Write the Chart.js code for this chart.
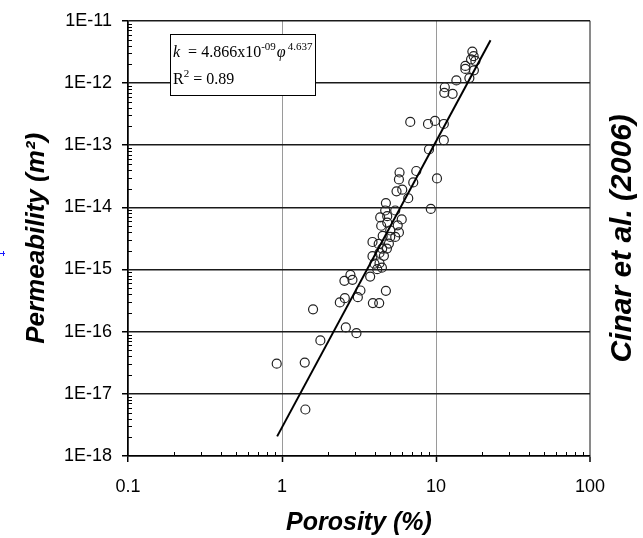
<!DOCTYPE html>
<html>
<head>
<meta charset="utf-8">
<script src="https://cdn.jsdelivr.net/npm/chart.js@4/dist/chart.umd.min.js"></script>
<style>
  html, body { margin: 0; padding: 0; background: #ffffff; }
  #wrap { width: 643px; height: 538px; position: relative; }
</style>
</head>
<body>
<div id="wrap"><canvas id="c" width="643" height="538"></canvas></div>
<script>
// ---- Data ----
const porosity = [
  0.924, 1.405, 1.418, 1.775, 1.591, 2.597, 3.043, 2.374, 2.558, 3.108,
  3.231, 2.543, 2.867, 2.782, 3.737, 3.892, 4.277, 4.728, 3.869, 3.986,
  4.297, 4.151, 4.454, 4.589, 4.297, 3.869, 4.245, 4.945, 4.473, 4.800,
  4.507, 5.043, 5.436, 5.043, 5.745, 4.407, 4.822, 5.643, 4.342, 4.822,
  5.991, 4.679, 5.436, 4.728, 5.542, 6.036, 6.603, 9.252, 5.797, 5.745,
  7.445, 7.118, 10.15, 9.005, 11.24, 6.805, 8.872, 9.851, 11.24, 11.41,
  11.32, 12.82, 13.56, 16.47, 17.62, 15.51, 15.51, 18.02, 16.89, 17.56,
  17.22
];
const permeability = [
  3.06e-17, 3.18e-17, 5.60e-18, 7.24e-17, 2.29e-16, 1.17e-16, 9.46e-17, 2.95e-16, 3.46e-16, 3.59e-16,
  4.59e-16, 6.56e-16, 6.81e-16, 8.17e-16, 7.68e-16, 2.88e-16, 2.88e-16, 4.54e-16, 1.64e-15, 1.24e-15,
  1.26e-15, 1.01e-15, 1.07e-15, 1.66e-15, 1.85e-15, 2.77e-15, 2.58e-15, 2.61e-15, 2.17e-15, 2.17e-15,
  3.46e-15, 3.34e-15, 3.34e-15, 4.24e-15, 3.94e-15, 5.05e-15, 5.68e-15, 5.13e-15, 6.87e-15, 7.21e-15,
  6.39e-15, 8.89e-15, 8.89e-15, 1.17e-14, 1.81e-14, 1.92e-14, 1.40e-14, 9.42e-15, 3.63e-14, 2.81e-14,
  3.84e-14, 2.51e-14, 2.91e-14, 8.53e-14, 1.20e-13, 2.36e-13, 2.19e-13, 2.45e-13, 2.19e-13, 8.53e-13,
  6.93e-13, 6.68e-13, 1.10e-12, 1.20e-12, 1.60e-12, 1.88e-12, 1.68e-12, 2.26e-12, 2.39e-12, 2.70e-12,
  3.20e-12
];
// fitted power-law line endpoints (as drawn)
const fitPorosity = [0.93, 22.6];
const fitPermeability = [2.07e-18, 4.86e-12];

const xTickValues = [0.1, 1, 10, 100];
const xTickLabels = ['0.1', '1', '10', '100'];
const yTickValues = [1e-18, 1e-17, 1e-16, 1e-15, 1e-14, 1e-13, 1e-12, 1e-11];
const yTickLabels = ['1E-18', '1E-17', '1E-16', '1E-15', '1E-14', '1E-13', '1E-12', '1E-11'];

const xTitle = 'Porosity (%)';
const yTitle = 'Permeability (m²)';
const sideNote = 'Cinar et al. (2006)';
const eqCoef = '4.866x10';
const eqExp1 = '-09';
const eqExp2 = '4.637';
const r2Text = '0.89';

// ---- Plugins ----
const minorTicks = {
  id: 'minorTicks',
  afterDraw(chart) {
    const {ctx, scales: {x, y}, chartArea: a} = chart;
    ctx.save();
    ctx.strokeStyle = '#000';
    ctx.lineWidth = 1;
    for (let n = -1; n <= 1; n++) {
      for (let k = 2; k <= 9; k++) {
        const px = Math.round(x.getPixelForValue(k * Math.pow(10, n))) + 0.5;
        ctx.beginPath(); ctx.moveTo(px, a.bottom); ctx.lineTo(px, a.bottom - 4); ctx.stroke();
      }
    }
    for (let n = -18; n <= -12; n++) {
      for (let k = 2; k <= 9; k++) {
        const py = Math.round(y.getPixelForValue(k * Math.pow(10, n))) + 0.5;
        ctx.beginPath(); ctx.moveTo(a.left, py); ctx.lineTo(a.left + 4, py); ctx.stroke();
      }
    }
    ctx.restore();
  }
};

const annotations = {
  id: 'annotations',
  afterDraw(chart) {
    const {ctx, chartArea: a} = chart;
    ctx.save();
    // equation box
    const bx = 170, by = 34, bw = 145, bh = 61;
    ctx.fillStyle = '#fff';
    ctx.fillRect(bx, by, bw, bh);
    ctx.strokeStyle = '#000';
    ctx.lineWidth = 1;
    ctx.strokeRect(bx + 0.5, by + 0.5, bw, bh);
    ctx.fillStyle = '#000';
    ctx.textBaseline = 'alphabetic';
    ctx.textAlign = 'left';
    let tx = bx + 3, ty = by + 23;
    ctx.font = 'italic 16px "Liberation Serif"';
    ctx.fillText('k', tx, ty); tx += ctx.measureText('k').width;
    ctx.font = '16px "Liberation Serif"';
    const s1 = '  = ' + eqCoef;
    ctx.fillText(s1, tx, ty); tx += ctx.measureText(s1).width;
    ctx.font = '11px "Liberation Serif"';
    ctx.fillText(eqExp1, tx, ty - 7); tx += ctx.measureText(eqExp1).width + 1;
    ctx.font = 'italic 16px "Liberation Serif"';
    ctx.fillText('φ', tx, ty); tx += ctx.measureText('φ').width + 2;
    ctx.font = '11px "Liberation Serif"';
    ctx.fillText(eqExp2, tx, ty - 7);
    tx = bx + 3; ty = by + 50;
    ctx.font = '16px "Liberation Serif"';
    ctx.fillText('R', tx, ty); tx += ctx.measureText('R').width;
    ctx.font = '11px "Liberation Serif"';
    ctx.fillText('2', tx, ty - 7); tx += ctx.measureText('2').width;
    ctx.font = '16px "Liberation Serif"';
    ctx.fillText(' = ' + r2Text, tx, ty);

    // side note
    ctx.save();
    ctx.translate(623, (a.top + a.bottom) / 2);
    ctx.rotate(-Math.PI / 2);
    ctx.font = 'italic bold 30px "Liberation Sans"';
    ctx.textAlign = 'center';
    ctx.textBaseline = 'middle';
    ctx.fillStyle = '#000';
    ctx.fillText(sideNote, 0, 0);
    ctx.restore();

    // small blue marker at left edge
    ctx.strokeStyle = '#1a1aff';
    ctx.lineWidth = 1;
    ctx.beginPath(); ctx.moveTo(0, 253.5); ctx.lineTo(5, 253.5); ctx.stroke();
    ctx.beginPath(); ctx.moveTo(3.5, 251); ctx.lineTo(3.5, 256); ctx.stroke();
    ctx.restore();
  }
};

const xGridColors = ['#000', '#9a9a9a', '#9a9a9a', '#8a8a8a'];
const xGridWidths = [1.5, 1, 1, 2];

new Chart(document.getElementById('c'), {
  type: 'scatter',
  data: {
    datasets: [
      {
        label: 'data',
        data: porosity.map((v, i) => ({x: v, y: permeability[i]})),
        pointStyle: 'circle',
        pointRadius: 4.5,
        pointBorderWidth: 1.2,
        pointBorderColor: '#222',
        pointBackgroundColor: 'rgba(255,255,255,0)',
        showLine: false,
        order: 2
      },
      {
        label: 'fit',
        data: fitPorosity.map((v, i) => ({x: v, y: fitPermeability[i]})),
        showLine: true,
        borderColor: '#000',
        borderWidth: 2,
        pointRadius: 0,
        tension: 0,
        order: 1
      }
    ]
  },
  options: {
    responsive: false,
    animation: false,
    events: [],
    layout: { padding: { top: 17, right: 53, left: 0, bottom: 0 } },
    plugins: { legend: { display: false }, tooltip: { enabled: false }, title: { display: false } },
    scales: {
      x: {
        type: 'logarithmic',
        position: 'bottom',
        min: 0.1, max: 100,
        afterBuildTicks: s => { s.ticks = xTickValues.map(v => ({value: v})); },
        afterFit: s => { s.height = 82; },
        ticks: {
          autoSkip: false, maxRotation: 0, minRotation: 0,
          padding: 14,
          color: '#000',
          font: { family: 'Liberation Sans', size: 18 },
          callback: (v, i) => xTickLabels[i]
        },
        grid: {
          color: ctx => xGridColors[ctx.index] || '#999',
          lineWidth: ctx => xGridWidths[ctx.index] || 1,
          drawTicks: true, tickLength: 6, tickColor: '#000', tickWidth: 1.5
        },
        border: { display: true, color: '#000', width: 1.5 },
        title: {
          display: true, text: xTitle, color: '#000',
          font: { family: 'Liberation Sans', size: 25, weight: 'bold', style: 'italic' },
          padding: { top: 0, bottom: 0 }
        }
      },
      y: {
        type: 'logarithmic',
        position: 'left',
        min: 1e-18, max: 1e-11,
        afterBuildTicks: s => { s.ticks = yTickValues.map(v => ({value: v})); },
        afterFit: s => { s.width = 128; },
        ticks: {
          autoSkip: false,
          padding: 10,
          color: '#000',
          font: { family: 'Liberation Sans', size: 18 },
          callback: (v, i) => yTickLabels[i]
        },
        grid: {
          color: '#1a1a1a', lineWidth: 1.5,
          drawTicks: true, tickLength: 6, tickColor: '#000', tickWidth: 1.5
        },
        border: { display: true, color: '#000', width: 1.5 },
        title: {
          display: true, text: yTitle, color: '#000',
          font: { family: 'Liberation Sans', size: 26, weight: 'bold', style: 'italic' },
          padding: { top: 21, bottom: 0 }
        }
      }
    }
  },
  plugins: [minorTicks, annotations]
});
</script>
</body>
</html>
